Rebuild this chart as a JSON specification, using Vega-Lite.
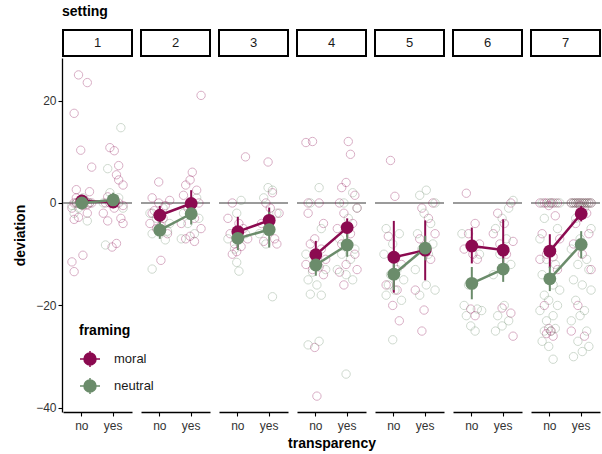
{
"$schema":"https://vega.github.io/schema/vega-lite/v6.json",
"padding":{"left":13,"top":5,"right":1,"bottom":2},
"background":"white",
"config":{"font":"Liberation Sans","view":{"stroke":null},
 "axis":{"grid":false,"domainColor":"black","domainWidth":1.3,"tickColor":"black","tickSize":4,"tickWidth":1.1,"labelColor":"#333333","labelFontSize":12,"titleFontSize":14,"titleFontWeight":"bold","titleColor":"black"},
 "legend":{"titleFontSize":14,"titleFontWeight":"bold","titleColor":"black","labelFontSize":13,"labelColor":"#1a1a1a"}},
"spacing":1,
"datasets":{"all":[
{"s":1,"t":"no","f":"moral","d":25,"p":3},{"s":1,"t":"no","f":"moral","d":23.5,"p":7},{"s":1,"t":"no","f":"moral","d":17.5,"p":1},{"s":1,"t":"no","f":"moral","d":10.3,"p":4},{"s":1,"t":"no","f":"moral","d":7,"p":9},{"s":1,"t":"no","f":"moral","d":2.6,"p":2},{"s":1,"t":"no","f":"moral","d":2.2,"p":8},{"s":1,"t":"no","f":"moral","d":1,"p":2},{"s":1,"t":"no","f":"moral","d":0.5,"p":6},{"s":1,"t":"no","f":"moral","d":0,"p":4},{"s":1,"t":"no","f":"moral","d":0,"p":8},{"s":1,"t":"no","f":"moral","d":0,"p":2},{"s":1,"t":"no","f":"moral","d":-0.5,"p":5},{"s":1,"t":"no","f":"moral","d":-1,"p":0},{"s":1,"t":"no","f":"moral","d":-2,"p":7},{"s":1,"t":"no","f":"moral","d":-2.8,"p":3},{"s":1,"t":"no","f":"moral","d":-3.2,"p":1},{"s":1,"t":"no","f":"moral","d":-10.2,"p":5},{"s":1,"t":"no","f":"moral","d":-11.5,"p":0},{"s":1,"t":"no","f":"moral","d":-13.4,"p":1},{"s":1,"t":"no","f":"moral","d":0,"p":1},{"s":1,"t":"no","f":"moral","d":0,"p":9},{"s":1,"t":"no","f":"moral","d":0.3,"p":4},{"s":1,"t":"no","f":"moral","d":-0.3,"p":7},
{"s":1,"t":"no","f":"neutral","d":0,"p":2},{"s":1,"t":"no","f":"neutral","d":0.3,"p":6},{"s":1,"t":"no","f":"neutral","d":-0.5,"p":0},{"s":1,"t":"no","f":"neutral","d":1,"p":5},{"s":1,"t":"no","f":"neutral","d":-1,"p":3},{"s":1,"t":"no","f":"neutral","d":0,"p":8},{"s":1,"t":"no","f":"neutral","d":-3.5,"p":7},{"s":1,"t":"no","f":"neutral","d":-2,"p":1},
{"s":1,"t":"yes","f":"moral","d":10.8,"p":3},{"s":1,"t":"yes","f":"moral","d":10.2,"p":5},{"s":1,"t":"yes","f":"moral","d":7.3,"p":7},{"s":1,"t":"yes","f":"moral","d":5.5,"p":6},{"s":1,"t":"yes","f":"moral","d":4.5,"p":7},{"s":1,"t":"yes","f":"moral","d":3.5,"p":9},{"s":1,"t":"yes","f":"moral","d":1.2,"p":2},{"s":1,"t":"yes","f":"moral","d":0.5,"p":5},{"s":1,"t":"yes","f":"moral","d":0,"p":3},{"s":1,"t":"yes","f":"moral","d":0,"p":7},{"s":1,"t":"yes","f":"moral","d":0,"p":1},{"s":1,"t":"yes","f":"moral","d":-0.5,"p":9},{"s":1,"t":"yes","f":"moral","d":-1,"p":5},{"s":1,"t":"yes","f":"moral","d":-2,"p":0},{"s":1,"t":"yes","f":"moral","d":-3,"p":8},{"s":1,"t":"yes","f":"moral","d":-3.5,"p":2},{"s":1,"t":"yes","f":"moral","d":-4,"p":9},{"s":1,"t":"yes","f":"moral","d":-7.9,"p":6},{"s":1,"t":"yes","f":"moral","d":-8.6,"p":4},
{"s":1,"t":"yes","f":"neutral","d":14.7,"p":8},{"s":1,"t":"yes","f":"neutral","d":6.7,"p":2},{"s":1,"t":"yes","f":"neutral","d":0,"p":5},{"s":1,"t":"yes","f":"neutral","d":0,"p":0},{"s":1,"t":"yes","f":"neutral","d":1,"p":7},{"s":1,"t":"yes","f":"neutral","d":2,"p":3},{"s":1,"t":"yes","f":"neutral","d":-1,"p":9},{"s":1,"t":"yes","f":"neutral","d":-8.2,"p":1},
{"s":2,"t":"no","f":"moral","d":4.1,"p":4},{"s":2,"t":"no","f":"moral","d":1,"p":1},{"s":2,"t":"no","f":"moral","d":0.5,"p":9},{"s":2,"t":"no","f":"moral","d":0,"p":4},{"s":2,"t":"no","f":"moral","d":-0.5,"p":7},{"s":2,"t":"no","f":"moral","d":-1.5,"p":2},{"s":2,"t":"no","f":"moral","d":-3,"p":6},{"s":2,"t":"no","f":"moral","d":-4,"p":0},{"s":2,"t":"no","f":"moral","d":-4.5,"p":5},{"s":2,"t":"no","f":"moral","d":-5,"p":3},{"s":2,"t":"no","f":"moral","d":-6,"p":8},{"s":2,"t":"no","f":"moral","d":-11.2,"p":5},{"s":2,"t":"no","f":"moral","d":-2,"p":1},
{"s":2,"t":"no","f":"neutral","d":-1,"p":6},{"s":2,"t":"no","f":"neutral","d":-2,"p":0},{"s":2,"t":"no","f":"neutral","d":-3,"p":3},{"s":2,"t":"no","f":"neutral","d":-5.5,"p":8},{"s":2,"t":"no","f":"neutral","d":-6,"p":1},{"s":2,"t":"no","f":"neutral","d":-7.2,"p":7},{"s":2,"t":"no","f":"neutral","d":-12.9,"p":1},{"s":2,"t":"no","f":"neutral","d":-4,"p":9},
{"s":2,"t":"yes","f":"moral","d":21,"p":9},{"s":2,"t":"yes","f":"moral","d":6,"p":5},{"s":2,"t":"yes","f":"moral","d":4.5,"p":4},{"s":2,"t":"yes","f":"moral","d":3.5,"p":2},{"s":2,"t":"yes","f":"moral","d":2.5,"p":7},{"s":2,"t":"yes","f":"moral","d":1.5,"p":1},{"s":2,"t":"yes","f":"moral","d":0,"p":8},{"s":2,"t":"yes","f":"moral","d":-1,"p":3},{"s":2,"t":"yes","f":"moral","d":-3,"p":6},{"s":2,"t":"yes","f":"moral","d":-4,"p":0},{"s":2,"t":"yes","f":"moral","d":-5,"p":9},{"s":2,"t":"yes","f":"moral","d":-6.5,"p":4},{"s":2,"t":"yes","f":"moral","d":-7,"p":2},{"s":2,"t":"yes","f":"moral","d":-7.5,"p":6},
{"s":2,"t":"yes","f":"neutral","d":0,"p":5},{"s":2,"t":"yes","f":"neutral","d":-2,"p":1},{"s":2,"t":"yes","f":"neutral","d":-3,"p":8},{"s":2,"t":"yes","f":"neutral","d":-4,"p":3},{"s":2,"t":"yes","f":"neutral","d":-6,"p":6},{"s":2,"t":"yes","f":"neutral","d":-7,"p":0},{"s":2,"t":"yes","f":"neutral","d":1,"p":7},
{"s":3,"t":"no","f":"moral","d":9,"p":8},{"s":3,"t":"no","f":"moral","d":0,"p":2},{"s":3,"t":"no","f":"moral","d":-3,"p":0},{"s":3,"t":"no","f":"moral","d":-4,"p":5},{"s":3,"t":"no","f":"moral","d":-5,"p":7},{"s":3,"t":"no","f":"moral","d":-6,"p":1},{"s":3,"t":"no","f":"moral","d":-7,"p":9},{"s":3,"t":"no","f":"moral","d":-8,"p":3},{"s":3,"t":"no","f":"moral","d":-8.5,"p":6},{"s":3,"t":"no","f":"moral","d":-9.5,"p":4},{"s":3,"t":"no","f":"moral","d":-10,"p":2},
{"s":3,"t":"no","f":"neutral","d":0.5,"p":6},{"s":3,"t":"no","f":"neutral","d":-2,"p":4},{"s":3,"t":"no","f":"neutral","d":-6,"p":8},{"s":3,"t":"no","f":"neutral","d":-7,"p":0},{"s":3,"t":"no","f":"neutral","d":-9,"p":3},{"s":3,"t":"no","f":"neutral","d":-11.6,"p":4},{"s":3,"t":"no","f":"neutral","d":-13.3,"p":5},
{"s":3,"t":"yes","f":"moral","d":8,"p":4},{"s":3,"t":"yes","f":"moral","d":2,"p":6},{"s":3,"t":"yes","f":"moral","d":0,"p":3},{"s":3,"t":"yes","f":"moral","d":-1,"p":5},{"s":3,"t":"yes","f":"moral","d":-2,"p":9},{"s":3,"t":"yes","f":"moral","d":-4,"p":1},{"s":3,"t":"yes","f":"moral","d":-7,"p":7},{"s":3,"t":"yes","f":"moral","d":-7.5,"p":2},{"s":3,"t":"yes","f":"moral","d":-8,"p":8},
{"s":3,"t":"yes","f":"neutral","d":3,"p":4},{"s":3,"t":"yes","f":"neutral","d":2.5,"p":6},{"s":3,"t":"yes","f":"neutral","d":1,"p":2},{"s":3,"t":"yes","f":"neutral","d":-2,"p":8},{"s":3,"t":"yes","f":"neutral","d":-6,"p":0},{"s":3,"t":"yes","f":"neutral","d":-8,"p":3},{"s":3,"t":"yes","f":"neutral","d":-18.3,"p":6},
{"s":4,"t":"no","f":"moral","d":11.8,"p":0},{"s":4,"t":"no","f":"moral","d":12,"p":3},{"s":4,"t":"no","f":"moral","d":0,"p":1},{"s":4,"t":"no","f":"moral","d":0,"p":6},{"s":4,"t":"no","f":"moral","d":-2,"p":1},{"s":4,"t":"no","f":"moral","d":-4,"p":8},{"s":4,"t":"no","f":"moral","d":-7,"p":4},{"s":4,"t":"no","f":"moral","d":-8,"p":2},{"s":4,"t":"no","f":"moral","d":-9,"p":7},{"s":4,"t":"no","f":"moral","d":-10,"p":5},{"s":4,"t":"no","f":"moral","d":-11,"p":9},{"s":4,"t":"no","f":"moral","d":-12,"p":0},{"s":4,"t":"no","f":"moral","d":-12.5,"p":6},{"s":4,"t":"no","f":"moral","d":-13,"p":3},{"s":4,"t":"no","f":"moral","d":-14,"p":8},{"s":4,"t":"no","f":"moral","d":-28.2,"p":4},{"s":4,"t":"no","f":"moral","d":-37.7,"p":5},
{"s":4,"t":"no","f":"neutral","d":3,"p":6},{"s":4,"t":"no","f":"neutral","d":0,"p":2},{"s":4,"t":"no","f":"neutral","d":-5,"p":7},{"s":4,"t":"no","f":"neutral","d":-10,"p":0},{"s":4,"t":"no","f":"neutral","d":-12,"p":4},{"s":4,"t":"no","f":"neutral","d":-13,"p":9},{"s":4,"t":"no","f":"neutral","d":-15,"p":1},{"s":4,"t":"no","f":"neutral","d":-16,"p":5},{"s":4,"t":"no","f":"neutral","d":-17.8,"p":2},{"s":4,"t":"no","f":"neutral","d":-18,"p":7},{"s":4,"t":"no","f":"neutral","d":-27.7,"p":1},{"s":4,"t":"no","f":"neutral","d":-27,"p":6},{"s":4,"t":"no","f":"neutral","d":-13.5,"p":3},
{"s":4,"t":"yes","f":"moral","d":12,"p":5},{"s":4,"t":"yes","f":"moral","d":9.5,"p":6},{"s":4,"t":"yes","f":"moral","d":4,"p":4},{"s":4,"t":"yes","f":"moral","d":3,"p":2},{"s":4,"t":"yes","f":"moral","d":1.5,"p":8},{"s":4,"t":"yes","f":"moral","d":0,"p":1},{"s":4,"t":"yes","f":"moral","d":-1,"p":9},{"s":4,"t":"yes","f":"moral","d":-2,"p":3},{"s":4,"t":"yes","f":"moral","d":-4,"p":7},{"s":4,"t":"yes","f":"moral","d":-5,"p":0},{"s":4,"t":"yes","f":"moral","d":-6,"p":6},{"s":4,"t":"yes","f":"moral","d":-8,"p":2},{"s":4,"t":"yes","f":"moral","d":-10,"p":8},{"s":4,"t":"yes","f":"moral","d":-12,"p":4},{"s":4,"t":"yes","f":"moral","d":-13,"p":9},{"s":4,"t":"yes","f":"moral","d":-13.5,"p":1},{"s":4,"t":"yes","f":"moral","d":-16,"p":3},
{"s":4,"t":"yes","f":"neutral","d":2,"p":7},{"s":4,"t":"yes","f":"neutral","d":0,"p":3},{"s":4,"t":"yes","f":"neutral","d":-1,"p":9},{"s":4,"t":"yes","f":"neutral","d":-3,"p":5},{"s":4,"t":"yes","f":"neutral","d":-7,"p":1},{"s":4,"t":"yes","f":"neutral","d":-9,"p":8},{"s":4,"t":"yes","f":"neutral","d":-10,"p":2},{"s":4,"t":"yes","f":"neutral","d":-11,"p":6},{"s":4,"t":"yes","f":"neutral","d":-13,"p":0},{"s":4,"t":"yes","f":"neutral","d":-14,"p":4},{"s":4,"t":"yes","f":"neutral","d":-15,"p":7},{"s":4,"t":"yes","f":"neutral","d":-33.4,"p":4},
{"s":5,"t":"no","f":"moral","d":8.3,"p":3},{"s":5,"t":"no","f":"moral","d":1.3,"p":5},{"s":5,"t":"no","f":"moral","d":-6.5,"p":2},{"s":5,"t":"no","f":"moral","d":-12,"p":8},{"s":5,"t":"no","f":"moral","d":-16,"p":1},{"s":5,"t":"no","f":"moral","d":-17,"p":6},{"s":5,"t":"no","f":"moral","d":-20,"p":4},{"s":5,"t":"no","f":"moral","d":-23,"p":7},
{"s":5,"t":"no","f":"neutral","d":-5,"p":1},{"s":5,"t":"no","f":"neutral","d":-6,"p":7},{"s":5,"t":"no","f":"neutral","d":-8,"p":4},{"s":5,"t":"no","f":"neutral","d":-10,"p":0},{"s":5,"t":"no","f":"neutral","d":-13,"p":6},{"s":5,"t":"no","f":"neutral","d":-14,"p":3},{"s":5,"t":"no","f":"neutral","d":-15,"p":9},{"s":5,"t":"no","f":"neutral","d":-16,"p":2},{"s":5,"t":"no","f":"neutral","d":-17,"p":5},{"s":5,"t":"no","f":"neutral","d":-18,"p":1},{"s":5,"t":"no","f":"neutral","d":-19,"p":8},{"s":5,"t":"no","f":"neutral","d":-26.7,"p":4},
{"s":5,"t":"yes","f":"moral","d":0,"p":8},{"s":5,"t":"yes","f":"moral","d":-1,"p":3},{"s":5,"t":"yes","f":"moral","d":-3,"p":6},{"s":5,"t":"yes","f":"moral","d":-6,"p":9},{"s":5,"t":"yes","f":"moral","d":-7,"p":2},{"s":5,"t":"yes","f":"moral","d":-9,"p":5},{"s":5,"t":"yes","f":"moral","d":-11,"p":7},{"s":5,"t":"yes","f":"moral","d":-17,"p":0},{"s":5,"t":"yes","f":"moral","d":-20.9,"p":4},{"s":5,"t":"yes","f":"moral","d":-25,"p":3},
{"s":5,"t":"yes","f":"neutral","d":2.5,"p":5},{"s":5,"t":"yes","f":"neutral","d":1.5,"p":2},{"s":5,"t":"yes","f":"neutral","d":0,"p":9},{"s":5,"t":"yes","f":"neutral","d":-2,"p":4},{"s":5,"t":"yes","f":"neutral","d":-4,"p":7},{"s":5,"t":"yes","f":"neutral","d":-6,"p":1},{"s":5,"t":"yes","f":"neutral","d":-8,"p":8},{"s":5,"t":"yes","f":"neutral","d":-9,"p":3},{"s":5,"t":"yes","f":"neutral","d":-10,"p":6},{"s":5,"t":"yes","f":"neutral","d":-13,"p":0},{"s":5,"t":"yes","f":"neutral","d":-16,"p":5},{"s":5,"t":"yes","f":"neutral","d":-17,"p":9},{"s":5,"t":"yes","f":"neutral","d":-18,"p":2},
{"s":6,"t":"no","f":"moral","d":1.9,"p":2},{"s":6,"t":"no","f":"moral","d":-4,"p":6},{"s":6,"t":"no","f":"moral","d":-6,"p":3},{"s":6,"t":"no","f":"moral","d":-8,"p":8},{"s":6,"t":"no","f":"moral","d":-9,"p":1},{"s":6,"t":"no","f":"moral","d":-10,"p":5},{"s":6,"t":"no","f":"moral","d":-11,"p":7},{"s":6,"t":"no","f":"moral","d":-20.7,"p":4},{"s":6,"t":"no","f":"moral","d":-22,"p":6},
{"s":6,"t":"no","f":"neutral","d":-6,"p":0},{"s":6,"t":"no","f":"neutral","d":-8,"p":5},{"s":6,"t":"no","f":"neutral","d":-10,"p":8},{"s":6,"t":"no","f":"neutral","d":-16,"p":3},{"s":6,"t":"no","f":"neutral","d":-20,"p":1},{"s":6,"t":"no","f":"neutral","d":-20.7,"p":7},{"s":6,"t":"no","f":"neutral","d":-21,"p":9},{"s":6,"t":"no","f":"neutral","d":-22,"p":2},{"s":6,"t":"no","f":"neutral","d":-24,"p":4},{"s":6,"t":"no","f":"neutral","d":-25,"p":6},
{"s":6,"t":"yes","f":"moral","d":0,"p":8},{"s":6,"t":"yes","f":"moral","d":-2,"p":2},{"s":6,"t":"yes","f":"moral","d":-4,"p":5},{"s":6,"t":"yes","f":"moral","d":-6,"p":0},{"s":6,"t":"yes","f":"moral","d":-7.5,"p":9},{"s":6,"t":"yes","f":"moral","d":-8,"p":3},{"s":6,"t":"yes","f":"moral","d":-10,"p":6},{"s":6,"t":"yes","f":"moral","d":-20.5,"p":4},{"s":6,"t":"yes","f":"moral","d":-21.5,"p":8},{"s":6,"t":"yes","f":"moral","d":-26,"p":9},
{"s":6,"t":"yes","f":"neutral","d":0.5,"p":9},{"s":6,"t":"yes","f":"neutral","d":-1,"p":7},{"s":6,"t":"yes","f":"neutral","d":-3,"p":4},{"s":6,"t":"yes","f":"neutral","d":-5,"p":1},{"s":6,"t":"yes","f":"neutral","d":-7,"p":6},{"s":6,"t":"yes","f":"neutral","d":-10,"p":3},{"s":6,"t":"yes","f":"neutral","d":-12,"p":8},{"s":6,"t":"yes","f":"neutral","d":-14,"p":0},{"s":6,"t":"yes","f":"neutral","d":-20,"p":5},{"s":6,"t":"yes","f":"neutral","d":-22,"p":2},{"s":6,"t":"yes","f":"neutral","d":-23,"p":7},{"s":6,"t":"yes","f":"neutral","d":-24,"p":4},{"s":6,"t":"yes","f":"neutral","d":-25,"p":1},
{"s":7,"t":"no","f":"moral","d":0,"p":0},{"s":7,"t":"no","f":"moral","d":0,"p":2},{"s":7,"t":"no","f":"moral","d":0,"p":3},{"s":7,"t":"no","f":"moral","d":0,"p":5},{"s":7,"t":"no","f":"moral","d":0,"p":6},{"s":7,"t":"no","f":"moral","d":0,"p":8},{"s":7,"t":"no","f":"moral","d":-0.5,"p":4},{"s":7,"t":"no","f":"moral","d":-2.5,"p":7},{"s":7,"t":"no","f":"moral","d":-6,"p":1},{"s":7,"t":"no","f":"moral","d":-7,"p":9},{"s":7,"t":"no","f":"moral","d":-10,"p":3},{"s":7,"t":"no","f":"moral","d":-10.5,"p":6},{"s":7,"t":"no","f":"moral","d":-11,"p":0},{"s":7,"t":"no","f":"moral","d":-13,"p":8},{"s":7,"t":"no","f":"moral","d":-20,"p":2},{"s":7,"t":"no","f":"moral","d":-24.5,"p":4},{"s":7,"t":"no","f":"moral","d":-25,"p":5},{"s":7,"t":"no","f":"moral","d":-25.5,"p":3},{"s":7,"t":"no","f":"moral","d":-26,"p":6},
{"s":7,"t":"no","f":"neutral","d":0,"p":1},{"s":7,"t":"no","f":"neutral","d":0,"p":4},{"s":7,"t":"no","f":"neutral","d":0,"p":7},{"s":7,"t":"no","f":"neutral","d":0,"p":9},{"s":7,"t":"no","f":"neutral","d":0,"p":5},{"s":7,"t":"no","f":"neutral","d":-3,"p":2},{"s":7,"t":"no","f":"neutral","d":-5,"p":8},{"s":7,"t":"no","f":"neutral","d":-7,"p":0},{"s":7,"t":"no","f":"neutral","d":-9,"p":5},{"s":7,"t":"no","f":"neutral","d":-11,"p":3},{"s":7,"t":"no","f":"neutral","d":-12,"p":7},{"s":7,"t":"no","f":"neutral","d":-14,"p":1},{"s":7,"t":"no","f":"neutral","d":-16,"p":6},{"s":7,"t":"no","f":"neutral","d":-17,"p":9},{"s":7,"t":"no","f":"neutral","d":-18,"p":2},{"s":7,"t":"no","f":"neutral","d":-19,"p":4},{"s":7,"t":"no","f":"neutral","d":-20,"p":8},{"s":7,"t":"no","f":"neutral","d":-21,"p":0},{"s":7,"t":"no","f":"neutral","d":-22,"p":6},{"s":7,"t":"no","f":"neutral","d":-23,"p":3},{"s":7,"t":"no","f":"neutral","d":-24.5,"p":7},{"s":7,"t":"no","f":"neutral","d":-25,"p":2},{"s":7,"t":"no","f":"neutral","d":-25,"p":5},{"s":7,"t":"no","f":"neutral","d":-27,"p":1},{"s":7,"t":"no","f":"neutral","d":-28,"p":4},{"s":7,"t":"no","f":"neutral","d":-30.5,"p":6},
{"s":7,"t":"yes","f":"moral","d":0,"p":0},{"s":7,"t":"yes","f":"moral","d":0,"p":1},{"s":7,"t":"yes","f":"moral","d":0,"p":2},{"s":7,"t":"yes","f":"moral","d":0,"p":3},{"s":7,"t":"yes","f":"moral","d":0,"p":4},{"s":7,"t":"yes","f":"moral","d":0,"p":5},{"s":7,"t":"yes","f":"moral","d":0,"p":6},{"s":7,"t":"yes","f":"moral","d":0,"p":7},{"s":7,"t":"yes","f":"moral","d":0,"p":8},{"s":7,"t":"yes","f":"moral","d":0,"p":9},{"s":7,"t":"yes","f":"moral","d":-0.5,"p":4},{"s":7,"t":"yes","f":"moral","d":-2,"p":7},{"s":7,"t":"yes","f":"moral","d":-4,"p":2},{"s":7,"t":"yes","f":"moral","d":-6,"p":8},{"s":7,"t":"yes","f":"moral","d":-8,"p":1},{"s":7,"t":"yes","f":"moral","d":-10,"p":5},{"s":7,"t":"yes","f":"moral","d":-13,"p":9},{"s":7,"t":"yes","f":"moral","d":-20,"p":3},{"s":7,"t":"yes","f":"moral","d":-25,"p":0},{"s":7,"t":"yes","f":"moral","d":-26,"p":6},
{"s":7,"t":"yes","f":"neutral","d":0,"p":1},{"s":7,"t":"yes","f":"neutral","d":0,"p":3},{"s":7,"t":"yes","f":"neutral","d":0,"p":5},{"s":7,"t":"yes","f":"neutral","d":0,"p":7},{"s":7,"t":"yes","f":"neutral","d":0,"p":9},{"s":7,"t":"yes","f":"neutral","d":0,"p":0},{"s":7,"t":"yes","f":"neutral","d":0,"p":2},{"s":7,"t":"yes","f":"neutral","d":0,"p":4},{"s":7,"t":"yes","f":"neutral","d":0,"p":6},{"s":7,"t":"yes","f":"neutral","d":0,"p":8},{"s":7,"t":"yes","f":"neutral","d":-1,"p":6},{"s":7,"t":"yes","f":"neutral","d":-3,"p":2},{"s":7,"t":"yes","f":"neutral","d":-5,"p":9},{"s":7,"t":"yes","f":"neutral","d":-7,"p":4},{"s":7,"t":"yes","f":"neutral","d":-9,"p":0},{"s":7,"t":"yes","f":"neutral","d":-11,"p":7},{"s":7,"t":"yes","f":"neutral","d":-12,"p":3},{"s":7,"t":"yes","f":"neutral","d":-13,"p":8},{"s":7,"t":"yes","f":"neutral","d":-15,"p":1},{"s":7,"t":"yes","f":"neutral","d":-16,"p":5},{"s":7,"t":"yes","f":"neutral","d":-17,"p":9},{"s":7,"t":"yes","f":"neutral","d":-19,"p":2},{"s":7,"t":"yes","f":"neutral","d":-21,"p":6},{"s":7,"t":"yes","f":"neutral","d":-22,"p":4},{"s":7,"t":"yes","f":"neutral","d":-23,"p":0},{"s":7,"t":"yes","f":"neutral","d":-25,"p":7},{"s":7,"t":"yes","f":"neutral","d":-27,"p":3},{"s":7,"t":"yes","f":"neutral","d":-28,"p":8},{"s":7,"t":"yes","f":"neutral","d":-29,"p":5},{"s":7,"t":"yes","f":"neutral","d":-30,"p":1},
{"s":1,"t":"no","f":"moral","m":0.4,"lo":-1.0,"hi":1.6},{"s":1,"t":"no","f":"neutral","m":0.0,"lo":-1.2,"hi":1.2},{"s":1,"t":"yes","f":"moral","m":0.2,"lo":-1.0,"hi":1.5},{"s":1,"t":"yes","f":"neutral","m":0.6,"lo":-0.8,"hi":2.0},
{"s":2,"t":"no","f":"moral","m":-2.4,"lo":-4.2,"hi":-0.6},{"s":2,"t":"no","f":"neutral","m":-5.3,"lo":-7.0,"hi":-3.6},{"s":2,"t":"yes","f":"moral","m":-0.1,"lo":-2.5,"hi":2.5},{"s":2,"t":"yes","f":"neutral","m":-2.1,"lo":-4.2,"hi":0},
{"s":3,"t":"no","f":"moral","m":-5.6,"lo":-8.6,"hi":-2.7},{"s":3,"t":"no","f":"neutral","m":-6.9,"lo":-9.2,"hi":-4.6},{"s":3,"t":"yes","f":"moral","m":-3.4,"lo":-6.0,"hi":-0.9},{"s":3,"t":"yes","f":"neutral","m":-5.2,"lo":-8.7,"hi":-1.7},
{"s":4,"t":"no","f":"moral","m":-10.1,"lo":-12.8,"hi":-7.4},{"s":4,"t":"no","f":"neutral","m":-12.1,"lo":-14.2,"hi":-10.0},{"s":4,"t":"yes","f":"moral","m":-4.8,"lo":-6.6,"hi":-3.0},{"s":4,"t":"yes","f":"neutral","m":-8.2,"lo":-10.5,"hi":-6.0},
{"s":5,"t":"no","f":"moral","m":-10.6,"lo":-17.5,"hi":-3.5},{"s":5,"t":"no","f":"neutral","m":-13.9,"lo":-17.0,"hi":-10.8},{"s":5,"t":"yes","f":"moral","m":-9.2,"lo":-15.1,"hi":-3.4},{"s":5,"t":"yes","f":"neutral","m":-8.8,"lo":-11.2,"hi":-6.4},
{"s":6,"t":"no","f":"moral","m":-8.4,"lo":-11.8,"hi":-4.8},{"s":6,"t":"no","f":"neutral","m":-15.7,"lo":-18.8,"hi":-12.5},{"s":6,"t":"yes","f":"moral","m":-9.2,"lo":-12.5,"hi":-3.2},{"s":6,"t":"yes","f":"neutral","m":-12.9,"lo":-15.4,"hi":-10.8},
{"s":7,"t":"no","f":"moral","m":-9.4,"lo":-12.7,"hi":-6.1},{"s":7,"t":"no","f":"neutral","m":-14.8,"lo":-17.2,"hi":-12.4},{"s":7,"t":"yes","f":"moral","m":-2.1,"lo":-3.6,"hi":-0.6},{"s":7,"t":"yes","f":"neutral","m":-8.1,"lo":-10.8,"hi":-5.5}
]},
"vconcat":[
{"data":{"name":"all"},
 "transform":[{"filter":"isValid(datum.m) && datum.t=='no' && datum.f=='moral'"}],
 "facet":{"column":{"field":"s","type":"ordinal","header":{"title":"setting","titleOrient":"top","titleAnchor":"start","labels":false,"labelPadding":0,"titleFontSize":14,"titleFontWeight":"bold","titleColor":"black","titlePadding":0}}},
 "spacing":7,
 "spec":{"width":69,"height":26,"view":{"stroke":"black","strokeWidth":2,"fill":"white"},
  "mark":{"type":"text","fontSize":13,"color":"#1a1a1a"},
  "encoding":{"text":{"field":"s","type":"nominal"}}}},
{"data":{"name":"all"},
 "facet":{"column":{"field":"s","type":"ordinal","header":{"title":"transparency","titleOrient":"bottom","labels":false,"titleFontSize":14,"titleFontWeight":"bold","titleColor":"black","titlePadding":-4}}},
 "spacing":7,
 "spec":{"width":69,"height":354,
  "layer":[
   {"transform":[{"filter":"isValid(datum.m) && datum.t=='no' && datum.f=='moral'"}],
    "mark":{"type":"rule","color":"#7a7a7a","strokeWidth":1.5},
    "encoding":{"y":{"datum":0,"type":"quantitative","scale":{"domain":[-40.8,28.3],"nice":false,"zero":false},"title":"deviation"}}},
   {"transform":[{"filter":"isValid(datum.d)"}],
    "mark":{"type":"point","shape":"circle","filled":false,"size":70,"strokeWidth":1,"opacity":0.33},
    "encoding":{
     "x":{"field":"t","type":"nominal","scale":{"type":"band","paddingInner":0.3,"paddingOuter":0.25},"axis":{"title":null,"labelAngle":0,"labelPadding":4}},
     "xOffset":{"field":"p","type":"nominal","scale":{"domain":[0,1,2,3,4,5,6,7,8,9]}},
     "y":{"field":"d","type":"quantitative","title":"deviation","axis":{"values":[-40,-20,0,20],"labelExpr":"replace(datum.label,'-','\u2212')","titlePadding":8}},
     "color":{"field":"f","type":"nominal","scale":{"domain":["moral","neutral"],"range":["#8B0A50","#6B8C6B"]},
      "legend":{"orient":"none","legendX":16,"legendY":294,"title":"framing","titlePadding":10,"symbolType":"M-1,0L1,0M0,-0.8L0,0.8M-0.6,0A0.6,0.6,0,1,0,0.6,0A0.6,0.6,0,1,0,-0.6,0Z","symbolSize":400,"rowPadding":5,"labelOffset":13,"symbolOpacity":1,
       "encode":{"symbols":{"update":{"fill":{"scale":"color","field":"value"},"stroke":{"scale":"color","field":"value"},"strokeWidth":{"value":2},"opacity":{"value":1},"fillOpacity":{"value":1},"strokeOpacity":{"value":1}}}}}}}},
   {"transform":[{"filter":"isValid(datum.m)"}],
    "mark":{"type":"rule","strokeWidth":2},
    "encoding":{"x":{"field":"t","type":"nominal"},"y":{"field":"lo","type":"quantitative","title":"deviation"},"y2":{"field":"hi"},"color":{"field":"f","type":"nominal"}}},
   {"transform":[{"filter":"isValid(datum.m)"}],
    "mark":{"type":"line","strokeWidth":2.5},
    "encoding":{"x":{"field":"t","type":"nominal"},"y":{"field":"m","type":"quantitative","title":"deviation"},"color":{"field":"f","type":"nominal"}}},
   {"transform":[{"filter":"isValid(datum.m)"}],
    "mark":{"type":"point","shape":"circle","filled":true,"size":165,"opacity":1},
    "encoding":{"x":{"field":"t","type":"nominal"},"y":{"field":"m","type":"quantitative","title":"deviation"},"color":{"field":"f","type":"nominal"}}}
  ]}}
]}
